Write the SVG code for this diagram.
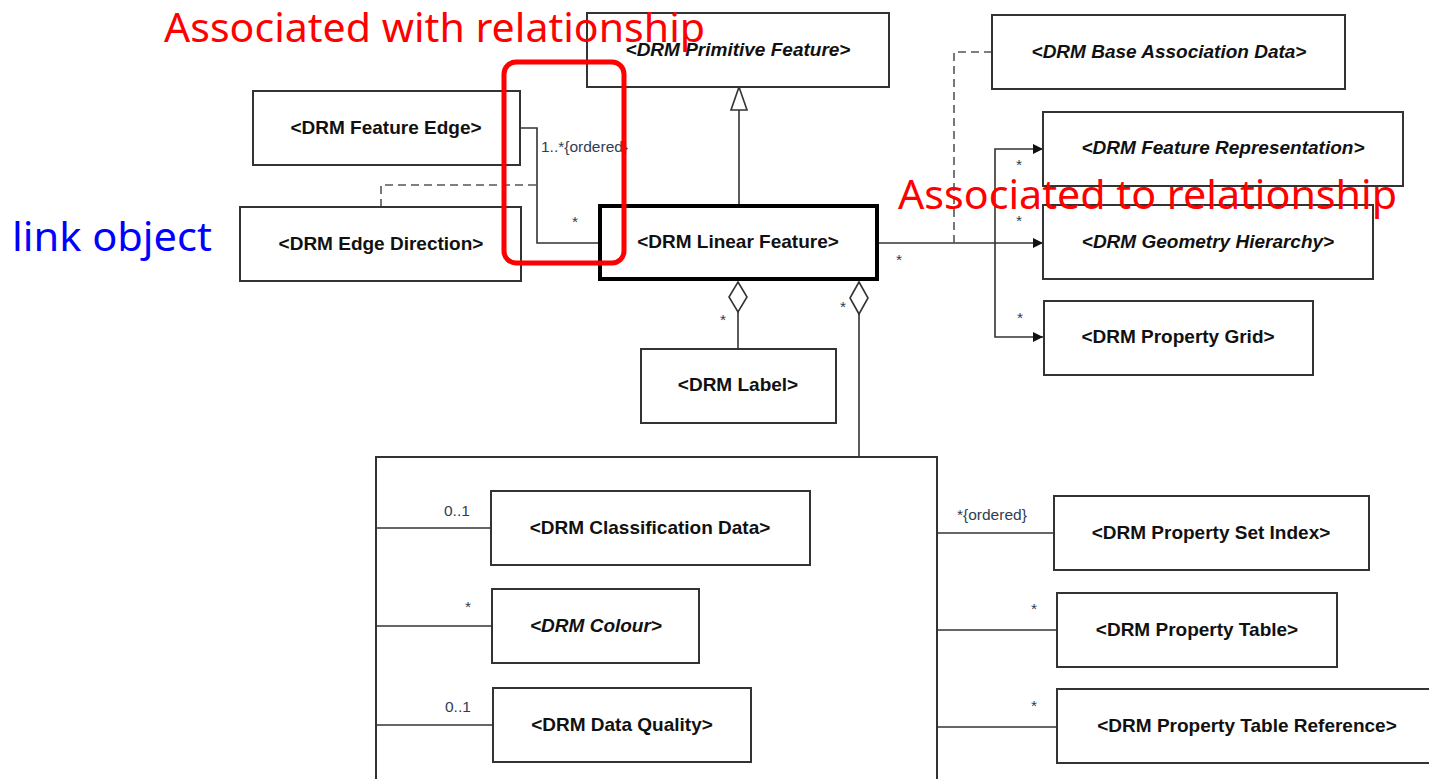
<svg xmlns="http://www.w3.org/2000/svg" width="1429" height="779" viewBox="0 0 1429 779">
  <style>
    .box { fill: #ffffff; stroke: #333333; stroke-width: 2; }
    .frame { fill: none; stroke: #333333; stroke-width: 2; }
    .main { fill: #ffffff; stroke: #000000; stroke-width: 4; }
    .name { font-family: "Liberation Sans", Arial, sans-serif; font-size: 19px; font-weight: bold; fill: #111111; text-anchor: middle; }
    .abs { font-style: italic; }
    .mult { font-family: "Liberation Sans", Arial, sans-serif; font-size: 15.5px; fill: #2f3d52; }
    .line { fill: none; stroke: #333333; stroke-width: 1.6; }
    .dash { fill: none; stroke: #555555; stroke-width: 1.6; stroke-dasharray: 8 5; }
    .note { font-family: "Noto Sans", "Open Sans", sans-serif; font-size: 40px; }
  </style>
  <defs>
    <marker id="arrow" viewBox="0 0 10 10" refX="10" refY="5" markerWidth="11" markerHeight="10" markerUnits="userSpaceOnUse" orient="auto">
      <path d="M0,0 L10,5 L0,10 Z" fill="#111111"/>
    </marker>
  </defs>
  <rect width="1429" height="779" fill="#ffffff"/>

  <!-- component group frame, drawn first so its members sit on top -->
  <g id="component-group">
    <rect class="frame" x="376" y="457" width="561" height="340"/>
  </g>

  <!-- connectors -->
  <g id="connectors">
    <!-- generalization to Primitive Feature -->
    <line class="line" x1="739" y1="205" x2="739" y2="110"/>
    <path d="M739,87 L747,110 L731,110 Z" fill="#ffffff" stroke="#333333" stroke-width="1.6"/>
    <!-- Feature Edge association -->
    <polyline class="line" points="520,128 537,128 537,243 599,243"/>
    <!-- Edge Direction link object -->
    <polyline class="dash" points="381,207 381,185 537,185"/>
    <!-- outgoing associations -->
    <line class="line" x1="878" y1="243" x2="1043" y2="243" marker-end="url(#arrow)"/>
    <polyline class="line" points="995,243 995,149 1043,149" marker-end="url(#arrow)"/>
    <polyline class="line" points="995,243 995,337 1043,337" marker-end="url(#arrow)"/>
    <polyline class="dash" points="992,52 954,52 954,243"/>
    <!-- aggregation to Label -->
    <path d="M738,282 L747,297 L738,312 L729,297 Z" fill="#ffffff" stroke="#333333" stroke-width="1.6"/>
    <line class="line" x1="738" y1="312" x2="738" y2="349"/>
    <!-- aggregation to component group -->
    <path d="M859,282 L868,298 L859,314 L850,298 Z" fill="#ffffff" stroke="#333333" stroke-width="1.6"/>
    <line class="line" x1="859" y1="314" x2="859" y2="457"/>
    <!-- component group left members -->
    <line class="line" x1="376" y1="528" x2="491" y2="528"/>
    <line class="line" x1="376" y1="626" x2="492" y2="626"/>
    <line class="line" x1="376" y1="725" x2="493" y2="725"/>
    <!-- component group right members -->
    <line class="line" x1="937" y1="533" x2="1054" y2="533"/>
    <line class="line" x1="937" y1="630" x2="1057" y2="630"/>
    <line class="line" x1="937" y1="727" x2="1057" y2="727"/>

    <!-- multiplicities -->
    <text class="mult" x="541" y="152">1..*{ordered}</text>
    <text class="mult" x="572" y="227">*</text>
    <text class="mult" x="896" y="265">*</text>
    <text class="mult" x="1016" y="170">*</text>
    <text class="mult" x="1016" y="226">*</text>
    <text class="mult" x="1017" y="323">*</text>
    <text class="mult" x="720" y="325">*</text>
    <text class="mult" x="840" y="312">*</text>
    <text class="mult" x="444" y="516">0..1</text>
    <text class="mult" x="465" y="612">*</text>
    <text class="mult" x="445" y="712">0..1</text>
    <text class="mult" x="957" y="520">*{ordered}</text>
    <text class="mult" x="1031" y="614">*</text>
    <text class="mult" x="1031" y="711">*</text>
  </g>

  <!-- nodes -->
  <g id="primitive-feature">
    <rect class="box" x="587" y="13" width="302" height="74"/>
    <text class="name abs" x="738" y="56">&lt;DRM Primitive Feature&gt;</text>
  </g>
  <g id="base-association-data">
    <rect class="box" x="992" y="15" width="353" height="74"/>
    <text class="name abs" x="1169" y="58">&lt;DRM Base Association Data&gt;</text>
  </g>
  <g id="feature-representation">
    <rect class="box" x="1043" y="112" width="360" height="74"/>
    <text class="name abs" x="1223" y="154">&lt;DRM Feature Representation&gt;</text>
  </g>
  <g id="geometry-hierarchy">
    <rect class="box" x="1043" y="205" width="330" height="74"/>
    <text class="name abs" x="1208" y="248">&lt;DRM Geometry Hierarchy&gt;</text>
  </g>
  <g id="property-grid">
    <rect class="box" x="1044" y="301" width="269" height="74"/>
    <text class="name" x="1178" y="343">&lt;DRM Property Grid&gt;</text>
  </g>
  <g id="feature-edge">
    <rect class="box" x="253" y="91" width="267" height="74"/>
    <text class="name" x="386" y="134">&lt;DRM Feature Edge&gt;</text>
  </g>
  <g id="edge-direction">
    <rect class="box" x="240" y="207" width="281" height="74"/>
    <text class="name" x="381" y="250">&lt;DRM Edge Direction&gt;</text>
  </g>
  <g id="linear-feature">
    <rect class="main" x="600" y="206" width="277" height="73"/>
    <text class="name" x="738" y="248">&lt;DRM Linear Feature&gt;</text>
  </g>
  <g id="label">
    <rect class="box" x="641" y="349" width="195" height="74"/>
    <text class="name" x="738" y="391">&lt;DRM Label&gt;</text>
  </g>
  <g id="classification-data">
    <rect class="box" x="491" y="491" width="319" height="74"/>
    <text class="name" x="650" y="534">&lt;DRM Classification Data&gt;</text>
  </g>
  <g id="colour">
    <rect class="box" x="492" y="589" width="207" height="74"/>
    <text class="name abs" x="596" y="632">&lt;DRM Colour&gt;</text>
  </g>
  <g id="data-quality">
    <rect class="box" x="493" y="688" width="258" height="74"/>
    <text class="name" x="622" y="731">&lt;DRM Data Quality&gt;</text>
  </g>
  <g id="property-set-index">
    <rect class="box" x="1054" y="496" width="315" height="74"/>
    <text class="name" x="1211" y="539">&lt;DRM Property Set Index&gt;</text>
  </g>
  <g id="property-table">
    <rect class="box" x="1057" y="593" width="280" height="74"/>
    <text class="name" x="1197" y="636">&lt;DRM Property Table&gt;</text>
  </g>
  <g id="property-table-reference">
    <rect class="box" x="1057" y="689" width="380" height="74"/>
    <text class="name" x="1247" y="732">&lt;DRM Property Table Reference&gt;</text>
  </g>

  <!-- annotations -->
  <g id="annotations">
    <rect x="504" y="62" width="120" height="201" rx="12" ry="12" fill="none" stroke="#ff0000" stroke-width="5"/>
    <text class="note" x="164" y="42" fill="#ff0000" textLength="541" lengthAdjust="spacingAndGlyphs">Associated with relationship</text>
    <text class="note" x="898" y="209" fill="#ff0000" textLength="499" lengthAdjust="spacingAndGlyphs">Associated to relationship</text>
    <text class="note" x="12" y="251" fill="#0000ff" textLength="200" lengthAdjust="spacingAndGlyphs">link object</text>
  </g>
</svg>
